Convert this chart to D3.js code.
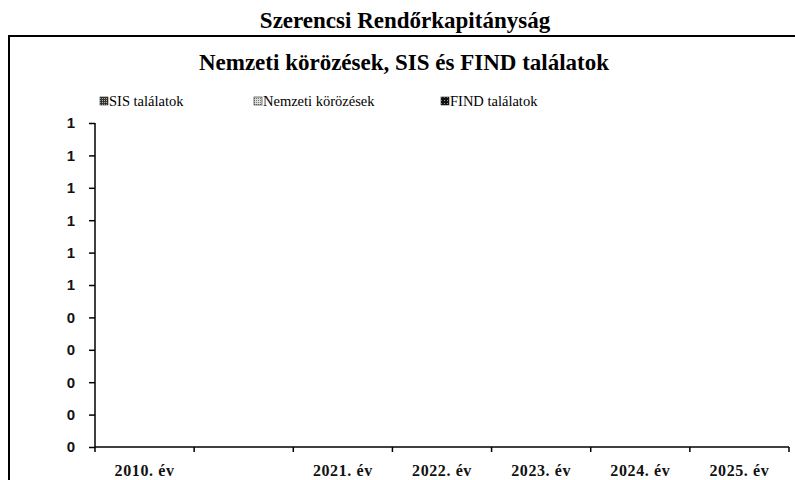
<!DOCTYPE html>
<html>
<head>
<meta charset="utf-8">
<title>Szerencsi Rendőrkapitányság</title>
<script src="https://d3js.org/d3.v7.min.js"></script>
<style>
  body { margin: 0; background: #fff; }
  svg { display: block; font-family: "Liberation Serif", "Times New Roman", serif; }
  .axis path, .axis line { stroke: #000; stroke-width: 1.5; }
  .axis text { font-weight: bold; fill: #111; }
</style>
</head>
<body>
<svg width="795" height="480"></svg>
<script>
// kategóriák (a második oszlop felirata üres az eredetin)
var categories = ["2010. év", " ", "2021. év", "2022. év", "2023. év", "2024. év", "2025. év"];
var seriesNames = ["SIS találatok", "Nemzeti körözések", "FIND találatok"];
var sisValues     = [0, 0, 0, 0, 0, 0, 0];
var nemzetiValues = [0, 0, 0, 0, 0, 0, 0];
var findValues    = [0, 0, 0, 0, 0, 0, 0];
var yTickValues = [0, 0.1, 0.2, 0.3, 0.4, 0.5, 0.6, 0.7, 0.8, 0.9, 1];

var svg = d3.select("svg");

// keret
svg.append("rect")
    .attr("x", 9).attr("y", 36)
    .attr("width", 800).attr("height", 460)
    .attr("fill", "none").attr("stroke", "#000").attr("stroke-width", 2);

svg.append("text")
    .attr("x", 405).attr("y", 28)
    .attr("text-anchor", "middle")
    .style("font-size", "23px").style("font-weight", "bold")
    .text("Szerencsi Rendőrkapitányság");

svg.append("text")
    .attr("x", 404).attr("y", 70)
    .attr("text-anchor", "middle")
    .style("font-size", "23px").style("font-weight", "bold")
    .text("Nemzeti körözések, SIS és FIND találatok");

// minták a jelmagyarázathoz
var defs = svg.append("defs");
var p1 = defs.append("pattern").attr("id", "pSis").attr("patternUnits", "userSpaceOnUse")
    .attr("width", 2).attr("height", 2);
p1.append("rect").attr("width", 2).attr("height", 2).attr("fill", "#333");
p1.append("rect").attr("width", 1).attr("height", 1).attr("fill", "#bbb");
var p2 = defs.append("pattern").attr("id", "pNem").attr("patternUnits", "userSpaceOnUse")
    .attr("width", 2).attr("height", 2);
p2.append("rect").attr("width", 2).attr("height", 2).attr("fill", "#ddd");
p2.append("rect").attr("width", 1).attr("height", 1).attr("fill", "#777");
var p3 = defs.append("pattern").attr("id", "pFind").attr("patternUnits", "userSpaceOnUse")
    .attr("width", 3).attr("height", 3);
p3.append("rect").attr("width", 3).attr("height", 3).attr("fill", "#111");
p3.append("rect").attr("width", 1).attr("height", 1).attr("fill", "#999");
var fills = ["url(#pSis)", "url(#pNem)", "url(#pFind)"];

var legendX = [100, 254, 441];
var legend = svg.append("g").selectAll("g")
    .data(seriesNames)
    .enter().append("g")
    .attr("transform", function(d, i) { return "translate(" + legendX[i] + ",106)"; });
legend.append("rect")
    .attr("x", 0).attr("y", -9)
    .attr("width", 8).attr("height", 8)
    .attr("fill", function(d, i) { return fills[i]; })
    .attr("stroke", "#222").attr("stroke-width", 0.6);
legend.append("text")
    .attr("x", 9)
    .style("font-size", "14.5px")
    .text(function(d) { return d; });

var margin = {left: 95, right: 789, top: 123, bottom: 447};

var x = d3.scaleBand()
    .domain(categories)
    .range([margin.left, margin.right]);

var x1 = d3.scaleBand()
    .domain(seriesNames)
    .range([0, x.bandwidth()])
    .padding(0.1);

var y = d3.scaleLinear()
    .domain([0, 1])
    .range([margin.bottom, margin.top]);

// oszlopok (minden érték nulla)
var series = [sisValues, nemzetiValues, findValues];
var barG = svg.append("g");
series.forEach(function(vals, s) {
  barG.selectAll(".bar" + s)
    .data(vals)
    .enter().append("rect")
      .attr("x", function(d, i) { return x(categories[i]) + x1(seriesNames[s]); })
      .attr("width", x1.bandwidth())
      .attr("y", function(d) { return y(d); })
      .attr("height", function(d) { return y(0) - y(d); })
      .attr("fill", fills[s]);
});

var yAxis = svg.append("g")
    .attr("class", "axis")
    .attr("transform", "translate(" + margin.left + ",0)")
    .call(d3.axisLeft(y)
      .tickValues(yTickValues)
      .tickSize(6)
      .tickPadding(14)
      .tickFormat(function(d) { return Math.round(d); }));
yAxis.select(".domain").attr("d", "M0," + margin.top + "V" + margin.bottom);
yAxis.selectAll("text").style("font-size", "15px");

// x tengely: osztásvonalak a sávhatárokon
var xAxis = svg.append("g")
    .attr("class", "axis")
    .attr("transform", "translate(0," + margin.bottom + ")");
xAxis.append("path")
    .attr("class", "domain")
    .attr("d", "M" + margin.left + ",0H" + margin.right);
var bounds = categories.map(function(c) { return x(c); }).concat([margin.right]);
xAxis.selectAll(".tick")
    .data(bounds)
    .enter().append("line")
      .attr("x1", function(d) { return d; }).attr("x2", function(d) { return d; })
      .attr("y1", 0).attr("y2", 5);
xAxis.selectAll(".lab")
    .data(categories)
    .enter().append("text")
      .attr("x", function(d) { return x(d) + x.bandwidth() / 2; })
      .attr("y", 29)
      .attr("text-anchor", "middle")
      .style("font-size", "16px")
      .style("letter-spacing", "0.6px")
      .text(function(d) { return d; });
</script>
</body>
</html>
